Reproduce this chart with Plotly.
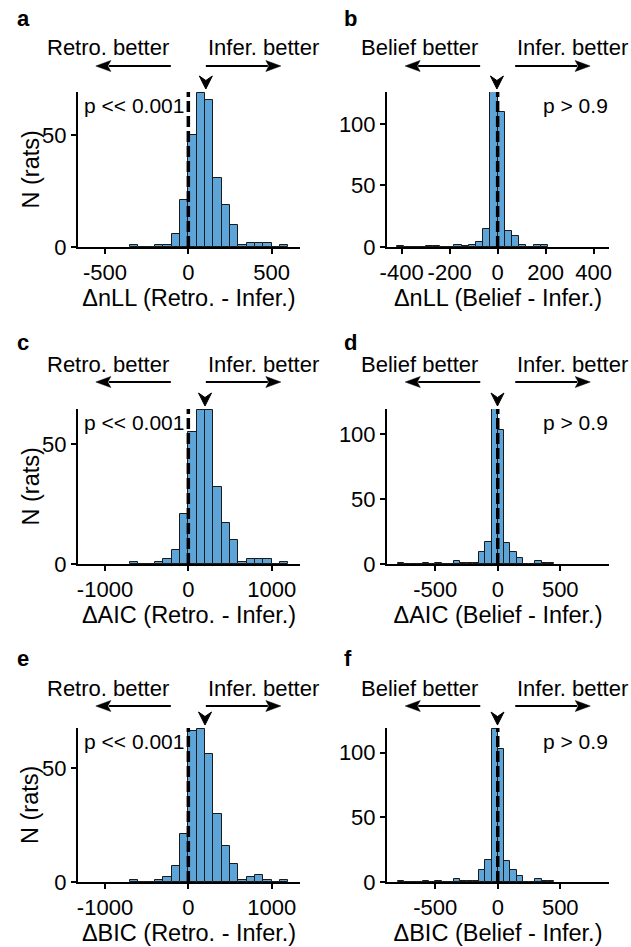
import plotly.graph_objects as go

W, H = 631, 947

# ---------------- data ----------------
# a: ΔnLL (Retro. - Infer.)
a_bin_start = -350
a_bin_width = 50
a_counts = [1, 0, 0, 1, 1, 6, 21, 50, 69, 66, 31, 19, 10, 1, 2, 2, 2, 0, 1]
a_median = 105
# b: ΔnLL (Belief - Infer.)
b_bin_start = -420
b_bin_width = 30
b_counts = [1, 0, 0, 0, 1, 1, 0, 0, 2, 1, 2, 4, 15, 126, 110, 13, 9, 2, 0, 2, 2]
b_median = -3
# c: ΔAIC (Retro. - Infer.)
c_bin_start = -700
c_bin_width = 100
c_counts = [1, 0, 0, 1, 2, 6, 21, 55, 64, 64, 32, 17, 10, 1, 2, 2, 2, 0, 1]
c_median = 200
# d: ΔAIC (Belief - Infer.)
d_bin_start = -800
d_bin_width = 50
d_counts = [1, 0, 0, 0, 1, 0, 1, 0, 0, 2, 1, 1, 1, 9, 17, 119, 103, 16, 9, 5, 0, 0, 2, 1, 1]
d_median = -2
# e: ΔBIC (Retro. - Infer.)
e_bin_start = -700
e_bin_width = 100
e_counts = [1, 0, 0, 1, 2, 7, 21, 66, 67, 56, 30, 16, 8, 1, 2, 3, 1, 0, 1]
e_median = 200
# f: ΔBIC (Belief - Infer.)
f_bin_start = -800
f_bin_width = 50
f_counts = [1, 0, 0, 0, 1, 0, 1, 0, 0, 2, 1, 1, 1, 9, 17, 118, 103, 16, 9, 5, 0, 0, 2, 1, 1]
f_median = -2

x_titles = ["ΔnLL (Retro. - Infer.)", "ΔnLL (Belief - Infer.)",
            "ΔAIC (Retro. - Infer.)", "ΔAIC (Belief - Infer.)",
            "ΔBIC (Retro. - Infer.)", "ΔBIC (Belief - Infer.)"]
panel_letters = ["a", "b", "c", "d", "e", "f"]
left_labels = ["Retro. better", "Belief better"]
right_label = "Infer. better"
p_texts = ["p << 0.001", "p > 0.9"]
y_title = "N (rats)"

a_xticks = [-500, 0, 500]
b_xticks = [-400, -200, 0, 200, 400]
c_xticks = [-1000, 0, 1000]
d_xticks = [-500, 0, 500]
e_xticks = [-1000, 0, 1000]
f_xticks = [-500, 0, 500]
small_yticks = [0, 50]
big_yticks = [0, 50, 100]

# ---------------- layout geometry (pixels) ----------------
col_x = [(78, 300), (387, 609)]
row_y = [(92, 247), (409, 564), (728, 882)]
x_ranges = [[-662, 670], [-461, 464], [-1324, 1340], [-886, 890], [-1324, 1340], [-886, 890]]
y_ranges = [[0, 69.4], [0, 126], [0, 64.6], [0, 119.3], [0, 67.5], [0, 119]]
header_shift = [44, 45, 40]
arrow_shift = [26, 27, 22]
letter_y = [18.5, 342, 658]
letter_x = [15, 342]
ytitle_x = 30

FONT = "Liberation Sans, Arial, Helvetica, sans-serif"
BAR_COLOR = "#5DA5D9"
FS = 22
FS_TITLE = 23.5

panels = [
    (a_bin_start, a_bin_width, a_counts, a_median, a_xticks, small_yticks),
    (b_bin_start, b_bin_width, b_counts, b_median, b_xticks, big_yticks),
    (c_bin_start, c_bin_width, c_counts, c_median, c_xticks, small_yticks),
    (d_bin_start, d_bin_width, d_counts, d_median, d_xticks, big_yticks),
    (e_bin_start, e_bin_width, e_counts, e_median, e_xticks, small_yticks),
    (f_bin_start, f_bin_width, f_counts, f_median, f_xticks, big_yticks),
]

fig = go.Figure()
annotations = []
shapes = []
layout = {}

GAP, ALEN, HLEN, HW, NOTCH = 17.5, 75, 15, 5.5, 3

for i, (start, width, counts, med, xt, yt) in enumerate(panels):
    r, c = divmod(i, 2)
    sx = "" if i == 0 else str(i + 1)
    xa, ya = "x" + sx, "y" + sx
    centers = [start + width * (k + 0.5) for k in range(len(counts))]
    fig.add_trace(go.Bar(
        x=centers, y=counts, width=width, xaxis=xa, yaxis=ya,
        marker=dict(color=BAR_COLOR, line=dict(color="#1a1a1a", width=1)),
        showlegend=False, hoverinfo="skip",
    ))
    x0p, x1p = col_x[c]
    y0p, y1p = row_y[r]
    common = dict(showline=True, linewidth=2, linecolor="black", ticks="outside",
                  ticklen=5, tickwidth=2, tickcolor="black", showgrid=False,
                  zeroline=False, fixedrange=True, automargin=False,
                  tickfont=dict(family=FONT, size=FS, color="black"))
    layout["xaxis" + sx] = dict(
        domain=[x0p / W, x1p / W], range=x_ranges[i], anchor=ya,
        tickvals=xt, ticktext=[str(v) for v in xt],
        title=dict(text=x_titles[i], font=dict(family=FONT, size=FS_TITLE, color="black"), standoff=5),
        **common)
    layout["yaxis" + sx] = dict(
        domain=[1 - y1p / H, 1 - y0p / H], range=y_ranges[i], anchor=xa,
        tickvals=yt, ticktext=[str(v) for v in yt], **common)
    if c == 0:
        annotations.append(dict(
            xref="paper", yref=ya + " domain", x=ytitle_x / W, y=0.5,
            xanchor="center", yanchor="middle", textangle=-90, text=y_title,
            showarrow=False, font=dict(family=FONT, size=FS_TITLE, color="black")))

    xr, yd = xa, ya + " domain"
    # dashed zero line
    shapes.append(dict(type="line", xref=xr, yref=yd, x0=0, x1=0, y0=0, y1=1,
                       line=dict(color="black", width=3.5, dash="11px,4px"), layer="above"))
    # median marker (notched arrowhead)
    shapes.append(dict(type="path", xref=xr, yref=yd, xsizemode="pixel", ysizemode="pixel",
                       xanchor=med, yanchor=1,
                       path="M0,3 L-6.5,16 L0,11.5 L6.5,16 Z",
                       fillcolor="black", line=dict(color="black", width=1), layer="above"))
    # header arrows (shaft + filled head), anchored at x = 0
    ay = arrow_shift[r]
    for sgn in (-1, 1):
        tip = sgn * (GAP + ALEN)
        shapes.append(dict(type="line", xref=xr, yref=yd, xsizemode="pixel", ysizemode="pixel",
                           xanchor=0, yanchor=1, x0=sgn * GAP, x1=tip - sgn * (HLEN - 2),
                           y0=ay, y1=ay, line=dict(color="black", width=2)))
        back = tip - sgn * HLEN
        path = (f"M{tip},{ay} L{back},{ay + HW} L{back + sgn * NOTCH},{ay} "
                f"L{back},{ay - HW} Z")
        shapes.append(dict(type="path", xref=xr, yref=yd, xsizemode="pixel", ysizemode="pixel",
                           xanchor=0, yanchor=1, path=path, fillcolor="black",
                           line=dict(color="black", width=0.5)))
    annotations.append(dict(
        xref=xr, yref=yd, x=0, y=1, xshift=-GAP, yshift=header_shift[r],
        xanchor="right", yanchor="middle", text=left_labels[c], showarrow=False,
        font=dict(family=FONT, size=FS, color="black")))
    annotations.append(dict(
        xref=xr, yref=yd, x=0, y=1, xshift=GAP, yshift=header_shift[r],
        xanchor="left", yanchor="middle", text=right_label, showarrow=False,
        font=dict(family=FONT, size=FS, color="black")))
    # p value text
    if c == 0:
        annotations.append(dict(
            xref=xa + " domain", yref=yd, x=0, y=1, xshift=4, yshift=0,
            xanchor="left", yanchor="top", text=p_texts[0], showarrow=False,
            font=dict(family=FONT, size=FS - 1, color="black")))
    else:
        annotations.append(dict(
            xref=xa + " domain", yref=yd, x=1, y=1, xshift=1, yshift=0,
            xanchor="right", yanchor="top", text=p_texts[1], showarrow=False,
            font=dict(family=FONT, size=FS - 1, color="black")))
    # panel letter
    annotations.append(dict(
        xref="paper", yref="paper", x=letter_x[c] / W, y=1 - letter_y[r] / H,
        xanchor="left", yanchor="middle", text="<b>" + panel_letters[i] + "</b>",
        showarrow=False, font=dict(family=FONT, size=FS, color="black")))

fig.update_layout(
    width=W, height=H, margin=dict(l=0, r=0, t=0, b=0, autoexpand=False),
    paper_bgcolor="white", plot_bgcolor="white", bargap=0,
    font=dict(family=FONT, size=FS, color="black"),
    annotations=annotations, shapes=shapes, **layout)

fig.write_html("out.html")
